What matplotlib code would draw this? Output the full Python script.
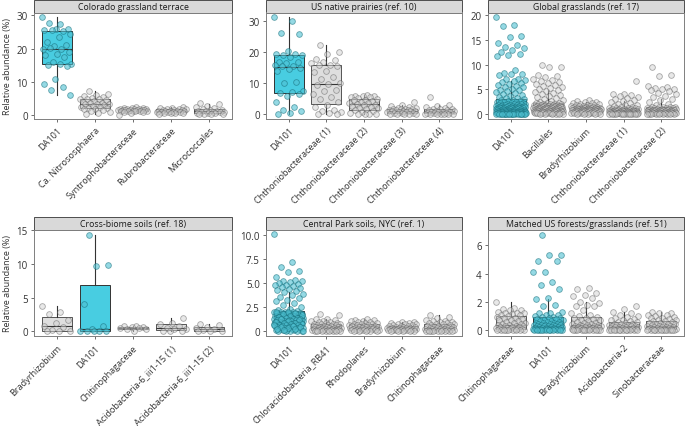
import numpy as np
import matplotlib
matplotlib.use("Agg")
import matplotlib.pyplot as plt
from matplotlib.patches import Rectangle

plt.rcParams['font.family'] = ['Open Sans', 'DejaVu Sans']

# ---------------------------------------------------------
# Data (relative abundance, %)
# ---------------------------------------------------------
titles = ["Colorado grassland terrace", "US native prairies (ref. 10)",
          "Global grasslands (ref. 17)", "Cross-biome soils (ref. 18)",
          "Central Park soils, NYC (ref. 1)", "Matched US forests/grasslands (ref. 51)"]

cats_colorado = ["DA101", "Ca. Nitrososphaera", "Syntrophobacteraceae",
                 "Rubrobacteraceae", "Micrococcales"]
cats_prairie = ["DA101", "Chthoniobacteraceae (1)", "Chthoniobacteraceae (2)",
                "Chthoniobacteraceae (3)", "Chthoniobacteraceae (4)"]
cats_global = ["DA101", "Bacillales", "Bradyrhizobium",
               "Chthoniobacteraceae (1)", "Chthoniobacteraceae (2)"]
cats_biome = ["Bradyrhizobium", "DA101", "Chitinophagaceae",
              "Acidobacteria-6_iii1-15 (1)", "Acidobacteria-6_iii1-15 (2)"]
cats_park = ["DA101", "Chloracidobacteria_RB41", "Rhodoplanes",
             "Bradyrhizobium", "Chitinophagaceae"]
cats_matched = ["Chitinophagaceae", "DA101", "Bradyrhizobium",
                "Acidobacteria-2", "Sinobacteraceae"]

# Colorado grassland terrace
colorado_da101 = [29.5, 27.5, 27.6, 26.0, 25.8, 25.5, 25.4, 25.6, 24.5, 23.5, 22.0, 21.2,
                  20.9, 20.0, 19.8, 20.2, 19.0, 18.4, 18.0, 17.5, 16.0, 15.5, 15.4, 15.0,
                  14.8, 11.0, 9.5, 8.5, 7.5, 6.0]
colorado_nitroso = [7.3, 6.5, 6.0, 5.8, 5.5, 5.2, 5.0, 4.9, 4.8, 4.5, 4.2, 4.0, 3.8, 3.6, 3.5,
                    3.4, 3.3, 3.0, 2.8, 2.6, 2.5, 2.3, 2.2, 2.0, 1.8, 1.5, 1.2, 1.0, 0.8, 0.5]
colorado_syntro = [2.5, 2.3, 2.2, 2.1, 2.0, 1.9, 1.9, 1.8, 1.8, 1.7, 1.7, 1.6, 1.6, 1.5, 1.5,
                   1.5, 1.4, 1.4, 1.3, 1.3, 1.2, 1.2, 1.1, 1.0, 0.8, 0.2]
colorado_rubro = [2.6, 2.3, 2.1, 2.0, 1.9, 1.8, 1.7, 1.6, 1.5, 1.4, 1.3, 1.3, 1.2, 1.2, 1.1,
                  1.0, 1.0, 0.9, 0.9, 0.8, 0.8, 0.7, 0.6, 0.5]
colorado_micro = [3.8, 3.3, 2.9, 2.5, 2.1, 1.9, 1.6, 1.5, 1.4, 1.3, 1.2, 1.1, 1.0, 1.0, 0.9,
                  0.8, 0.7, 0.6, 0.5, 0.5, 0.4, 0.3]

# US native prairies
prairie_da101 = [31.3, 30.0, 26.1, 26.0, 20.5, 19.5, 19.4, 19.0, 19.1, 18.5, 17.0, 16.9,
                 16.5, 16.0, 15.5, 15.6, 15.0, 14.5, 14.0, 10.5, 10.0, 7.5, 7.2, 7.0,
                 6.5, 5.8, 4.0, 2.5, 1.5, 1.2, 0.5, 0.0]
prairie_chth1 = [22.2, 20.0, 19.5, 18.0, 17.5, 17.0, 16.5, 16.0, 15.9, 15.5, 14.0, 13.5,
                 12.0, 11.5, 10.0, 9.8, 9.5, 8.0, 7.5, 6.5, 5.5, 5.0, 4.0, 3.0, 2.5, 1.5,
                 1.0, 0.8, 0.5, 0.3, 0.0]
prairie_chth2 = [6.4, 6.0, 5.9, 5.8, 5.6, 5.5, 5.2, 5.0, 4.8, 4.6, 4.2, 4.0, 3.8, 3.7, 3.5,
                 3.2, 3.0, 2.8, 2.5, 2.2, 2.0, 1.8, 1.5, 1.2, 0.8, 0.5, 0.2, 0.1, 0.0, 0.0]
prairie_chth3 = [4.0, 3.1, 2.6, 2.4, 2.2, 2.0, 1.9, 1.8, 1.7, 1.6, 1.5, 1.4, 1.3, 1.2, 1.2,
                 1.1, 1.0, 0.9, 0.8, 0.7, 0.6, 0.5, 0.4, 0.3, 0.2, 0.1, 0.0, 0.0]
prairie_chth4 = [5.5, 3.0, 2.6, 2.3, 2.1, 1.9, 1.8, 1.6, 1.5, 1.3, 1.1, 1.0, 0.9, 0.8, 0.8,
                 0.7, 0.6, 0.5, 0.4, 0.3, 0.3, 0.2, 0.1, 0.0, 0.0, 0.0]

# Global grasslands
global_da101 = [19.7, 18.1, 17.9, 15.9, 15.7, 14.5, 14.1, 13.6, 13.3, 13.0, 12.5, 12.2,
                11.9, 11.8, 9.0, 8.3, 8.2, 8.1, 7.9, 7.2, 7.1, 6.9, 6.8, 6.5, 6.2, 6.0,
                5.8, 5.7, 5.5, 5.4,
                5.1, 4.9, 4.8, 4.6, 4.4, 4.2, 4.0, 3.8, 3.7, 3.5, 3.3, 3.2, 3.0, 2.9, 2.8,
                2.7, 2.6, 2.5, 2.4, 2.35,
                2.3, 2.25, 2.2, 2.1, 2.12, 2.0, 2.03, 1.9, 1.94, 1.88, 1.8, 1.83, 1.77, 1.7,
                1.72, 1.66, 1.6, 1.63, 1.57, 1.5, 1.52, 1.48, 1.46, 1.4, 1.43, 1.38, 1.36,
                1.3, 1.33, 1.28, 1.26, 1.3, 1.2, 1.24, 1.22, 1.18, 1.2, 1.15, 1.12, 1.1,
                1.1, 1.05, 1.0, 1.02, 0.98, 0.95, 0.9, 0.92, 0.88, 0.85, 0.8, 0.83, 0.79,
                0.75, 0.76, 0.7, 0.72, 0.69, 0.65, 0.66, 0.6, 0.62, 0.58, 0.55, 0.56, 0.54,
                0.5, 0.52, 0.49, 0.51, 0.45, 0.47, 0.44, 0.46, 0.4, 0.42, 0.41, 0.4, 0.43,
                0.39,
                0.38, 0.36, 0.35, 0.34, 0.32, 0.3, 0.31, 0.28, 0.26, 0.25, 0.24, 0.22, 0.2,
                0.21, 0.19, 0.18, 0.16, 0.15, 0.14, 0.13, 0.12, 0.11, 0.1, 0.1, 0.09, 0.08,
                0.07, 0.06, 0.05, 0.05, 0.04, 0.03, 0.03, 0.02, 0.02, 0.01, 0.01, 0.0, 0.0,
                0.0]
global_bacil = [10.0, 9.6, 9.5, 8.0, 7.8, 7.5, 7.2, 7.0, 6.8, 6.6, 6.3, 6.0, 5.8, 5.6, 5.4,
                5.2, 5.0, 4.8, 4.6, 4.4, 4.2, 4.0, 3.8, 3.6, 3.4, 3.2, 3.0, 2.8, 2.6, 2.4,
                2.3, 2.26, 2.2, 2.14, 2.1, 2.06, 2.0, 1.94, 1.9, 1.87, 1.82, 1.79, 1.74,
                1.7, 1.65, 1.62, 1.59, 1.55, 1.51, 1.49, 1.47, 1.43, 1.41, 1.38, 1.37, 1.35,
                1.34, 1.32, 1.31, 1.3,
                1.28, 1.25, 1.23, 1.2, 1.17, 1.15, 1.12, 1.08, 1.06, 1.03, 1.01, 0.99, 0.96,
                0.93, 0.9, 0.88, 0.86, 0.83, 0.8, 0.79, 0.76, 0.74, 0.71, 0.7, 0.68, 0.67,
                0.64, 0.63, 0.61, 0.6,
                0.58, 0.57, 0.54, 0.52, 0.5, 0.49, 0.46, 0.44, 0.42, 0.41, 0.38, 0.36, 0.35,
                0.32, 0.3, 0.29, 0.26, 0.24, 0.22, 0.21, 0.18, 0.16, 0.14, 0.13, 0.1, 0.08,
                0.06, 0.04, 0.02, 0.0]
global_brady = [2.8, 2.6, 2.5, 2.4, 2.3, 2.2, 2.1, 2.0, 1.9, 1.8, 1.8, 1.7, 1.7, 1.6, 1.6,
                1.5, 1.5, 1.4, 1.4, 1.3,
                1.3, 1.28, 1.25, 1.22, 1.2, 1.18, 1.15, 1.12, 1.1, 1.08, 1.05, 1.02, 1.0,
                0.98, 0.96, 0.95, 0.93, 0.92, 0.91, 0.9,
                0.88, 0.86, 0.84, 0.82, 0.8, 0.78, 0.76, 0.74, 0.72, 0.7, 0.68, 0.66, 0.64,
                0.62, 0.6, 0.58, 0.56, 0.54, 0.52, 0.5,
                0.48, 0.45, 0.42, 0.4, 0.38, 0.35, 0.32, 0.3, 0.28, 0.25, 0.22, 0.2, 0.18,
                0.15, 0.12, 0.1, 0.08, 0.05, 0.03, 0.0]
global_chth1 = [6.8, 4.1, 4.0, 3.8, 3.6, 3.5, 3.3, 3.1, 2.9, 2.7, 2.5, 2.3, 2.1, 1.9, 1.8,
                1.6, 1.5, 1.4, 1.3, 1.2,
                1.2, 1.15, 1.1, 1.05, 1.0, 0.98, 0.95, 0.92, 0.9, 0.86, 0.83, 0.8, 0.77,
                0.74, 0.71, 0.68, 0.66, 0.64, 0.62, 0.6,
                0.58, 0.56, 0.54, 0.52, 0.5, 0.48, 0.46, 0.44, 0.42, 0.4, 0.38, 0.36, 0.34,
                0.32, 0.3, 0.28, 0.26, 0.24, 0.22, 0.2,
                0.19, 0.18, 0.17, 0.16, 0.15, 0.14, 0.13, 0.12, 0.11, 0.1, 0.09, 0.08, 0.07,
                0.06, 0.05, 0.04, 0.03, 0.02, 0.01, 0.0]
global_chth2 = [9.5, 7.9, 7.8, 5.6, 5.5, 5.3, 5.1, 5.0, 4.8, 4.6, 4.3, 4.0, 3.7, 3.4, 3.1,
                2.8, 2.4, 2.1, 1.8, 1.5,
                1.5, 1.45, 1.4, 1.35, 1.3, 1.25, 1.2, 1.15, 1.1, 1.05, 1.0, 0.98, 0.95,
                0.92, 0.9, 0.88, 0.86, 0.84, 0.82, 0.8,
                0.78, 0.75, 0.72, 0.7, 0.67, 0.64, 0.61, 0.58, 0.55, 0.52, 0.5, 0.47, 0.44,
                0.42, 0.4, 0.38, 0.36, 0.34, 0.32, 0.3,
                0.28, 0.26, 0.24, 0.22, 0.2, 0.19, 0.18, 0.16, 0.15, 0.14, 0.12, 0.1, 0.09,
                0.08, 0.06, 0.05, 0.04, 0.02, 0.01, 0.0]

# Cross-biome soils
biome_brady = [3.7, 2.8, 2.5, 1.6, 1.3, 0.8, 0.7, 0.2, 0.0, 0.0, 0.0]
biome_da101 = [14.3, 9.9, 9.7, 4.1, 0.8, 0.4, 0.1, 0.0, 0.0, 0.0, 0.0]
biome_chitino = [0.8, 0.8, 0.7, 0.6, 0.5, 0.5, 0.4, 0.3, 0.1]
biome_acido1 = [1.9, 1.3, 1.1, 0.8, 0.5, 0.4, 0.3, 0.1, 0.0, 0.0]
biome_acido2 = [1.1, 1.0, 0.6, 0.5, 0.4, 0.2, 0.1, 0.0, 0.0]

# Central Park soils
park_da101 = [10.1, 7.2, 6.7, 6.3, 6.2, 5.7, 5.3, 5.2, 5.2, 5.1, 5.0, 4.9, 4.8, 4.8, 4.7,
              4.6, 4.5, 4.4, 4.3, 4.2,
              4.1, 3.9, 3.8, 3.6, 3.5, 3.3, 3.1, 2.9, 2.7, 2.5, 2.35, 2.2, 2.1,
              2.05, 2.02, 1.98, 1.95, 1.91, 1.9, 1.86, 1.83, 1.8, 1.76, 1.74, 1.7, 1.67,
              1.65, 1.62, 1.58, 1.56, 1.53, 1.5, 1.49, 1.46, 1.44, 1.42, 1.4, 1.38, 1.36,
              2.04, 1.97, 1.88, 1.79, 1.69, 1.55, 1.43,
              1.35, 1.33, 1.3, 1.27, 1.25, 1.22, 1.2, 1.16, 1.13, 1.1, 1.08, 1.04, 1.0,
              0.98, 0.95, 0.92, 0.9, 0.86, 0.83, 0.8, 0.78, 0.75, 0.72, 0.7, 0.69,
              1.31, 1.18, 1.06, 0.97, 0.88, 0.81, 0.76, 0.71,
              0.66, 0.62, 0.6, 0.57, 0.54, 0.5, 0.47, 0.44, 0.4, 0.37, 0.33, 0.3, 0.27,
              0.24, 0.2, 0.17, 0.14, 0.11, 0.08, 0.05, 0.03, 0.01, 0.0, 0.0,
              0.64, 0.58, 0.49, 0.42, 0.35, 0.26, 0.19, 0.09, 0.02]
park_rb41 = [1.8, 1.7, 1.3, 1.25, 1.2, 1.1, 1.05, 1.0, 0.95, 0.9, 0.85, 0.8, 0.75, 0.72,
             0.7, 0.66, 0.62, 0.6, 0.57, 0.54, 0.5, 0.47, 0.44, 0.42, 0.4, 0.38, 0.36,
             0.35, 0.33, 0.3, 0.28, 0.26, 0.24, 0.22, 0.2, 0.18, 0.16, 0.14, 0.13, 0.12,
             0.11, 0.1, 0.09, 0.08, 0.07, 0.06, 0.05, 0.04, 0.03, 0.02, 0.01, 0.0]
park_rhodo = [1.3, 1.2, 1.15, 1.1, 1.05, 1.0, 0.95, 0.9, 0.85, 0.8, 0.75, 0.7, 0.65, 0.62,
              0.6, 0.56, 0.52, 0.5, 0.47, 0.44, 0.42, 0.4, 0.37, 0.35, 0.33, 0.3, 0.28,
              0.26, 0.24, 0.22, 0.2, 0.18, 0.16, 0.14, 0.13, 0.12, 0.11, 0.1, 0.08,
              0.06, 0.05, 0.03, 0.02, 0.0]
park_brady = [1.0, 0.95, 0.9, 0.85, 0.8, 0.75, 0.7, 0.65, 0.6, 0.56, 0.52, 0.5, 0.47,
              0.44, 0.41, 0.38, 0.35, 0.33, 0.31, 0.3, 0.28, 0.26, 0.25, 0.23, 0.21, 0.2,
              0.18, 0.16, 0.15, 0.13, 0.12, 0.1, 0.09, 0.08, 0.06, 0.05, 0.03, 0.02, 0.0]
park_chitino = [1.7, 1.5, 1.4, 1.2, 1.1, 1.05, 1.0, 0.95, 0.9, 0.85, 0.8, 0.75, 0.7, 0.65,
                0.6, 0.56, 0.52, 0.48, 0.45, 0.42, 0.38, 0.35, 0.32, 0.3, 0.27, 0.25,
                0.23, 0.2, 0.18, 0.16, 0.14, 0.12, 0.1, 0.09, 0.07, 0.06, 0.05, 0.04,
                0.03, 0.02, 0.01, 0.0, 0.0]

# Matched US forests/grasslands
matched_chitino = [2.0, 1.6, 1.5, 1.45, 1.4, 1.3, 1.25, 1.2, 1.2, 1.15, 1.1, 1.05, 1.0,
                   0.95, 0.9, 0.85, 0.8, 0.75, 0.7, 0.65, 0.6, 0.55, 0.5, 0.45, 0.42,
                   0.38, 0.35, 0.32, 0.3, 0.27, 0.25, 0.22, 0.2, 0.18, 0.15, 0.12, 0.1,
                   0.09, 0.08, 0.07, 0.06, 0.05, 0.04, 0.03, 0.02, 0.02, 0.01, 0.01, 0.0, 0.0]
matched_da101 = [6.7, 5.3, 5.3, 4.9, 4.9, 4.1, 4.1, 3.4, 3.2, 2.9, 2.3, 2.2, 1.8, 1.7,
                 1.3, 1.25, 1.2, 1.1, 1.05, 1.0,
                 0.95, 0.92, 0.88, 0.85, 0.8, 0.77, 0.74, 0.7, 0.67, 0.64, 0.6, 0.57,
                 0.55, 0.52, 0.5, 0.48, 0.46, 0.44, 0.42, 0.4,
                 0.39, 0.37, 0.35, 0.34, 0.32, 0.3, 0.29, 0.27, 0.25, 0.24, 0.22, 0.2,
                 0.19, 0.17, 0.16, 0.15, 0.13, 0.12, 0.11, 0.1,
                 0.1, 0.09, 0.09, 0.08, 0.08, 0.07, 0.06, 0.06, 0.05, 0.05, 0.04, 0.04,
                 0.03, 0.03, 0.02, 0.02, 0.01, 0.01, 0.0, 0.0]
matched_brady = [3.0, 2.9, 2.6, 2.5, 2.4, 2.3, 2.0, 1.9, 1.8, 1.7, 1.7, 1.4, 1.2, 1.1, 1.0,
                 0.95, 0.9, 0.85, 0.8, 0.75, 0.7, 0.65, 0.6, 0.55, 0.5, 0.46, 0.43, 0.4,
                 0.37, 0.35,
                 0.33, 0.31, 0.29, 0.27, 0.25, 0.23, 0.21, 0.2, 0.18, 0.16, 0.15, 0.13,
                 0.12, 0.11, 0.1,
                 0.09, 0.08, 0.07, 0.06, 0.05, 0.05, 0.04, 0.03, 0.03, 0.02, 0.02, 0.01,
                 0.01, 0.0, 0.0]
matched_acido = [1.7, 1.5, 1.3, 1.2, 1.1, 1.0, 0.95, 0.9, 0.8, 0.75, 0.7, 0.65, 0.6, 0.56,
                 0.52, 0.48, 0.45, 0.42, 0.4, 0.37, 0.35, 0.33, 0.31, 0.3, 0.28, 0.26,
                 0.24, 0.22, 0.2, 0.18, 0.16, 0.14, 0.12, 0.1, 0.09, 0.08, 0.07, 0.06,
                 0.05, 0.05, 0.04, 0.03, 0.03, 0.02, 0.02, 0.01, 0.01, 0.0, 0.0, 0.0]
matched_sino = [1.3, 1.25, 1.2, 1.1, 1.05, 1.0, 0.95, 0.9, 0.85, 0.8, 0.75, 0.7, 0.68,
                0.65, 0.6, 0.55, 0.5, 0.47, 0.44, 0.41, 0.38, 0.35, 0.32, 0.3, 0.28,
                0.26, 0.24, 0.22, 0.2, 0.18, 0.16, 0.14, 0.12, 0.1, 0.09, 0.08, 0.07,
                0.06, 0.05, 0.05, 0.04, 0.03, 0.03, 0.02, 0.02, 0.01, 0.01, 0.0, 0.0, 0.0]

panel_cats = [cats_colorado, cats_prairie, cats_global, cats_biome, cats_park, cats_matched]
panel_data = [
    [colorado_da101, colorado_nitroso, colorado_syntro, colorado_rubro, colorado_micro],
    [prairie_da101, prairie_chth1, prairie_chth2, prairie_chth3, prairie_chth4],
    [global_da101, global_bacil, global_brady, global_chth1, global_chth2],
    [biome_brady, biome_da101, biome_chitino, biome_acido1, biome_acido2],
    [park_da101, park_rb41, park_rhodo, park_brady, park_chitino],
    [matched_chitino, matched_da101, matched_brady, matched_acido, matched_sino],
]
panel_ylim = [(-1.0, 30.8), (-1.3, 32.8), (-0.9, 20.6), (-0.7, 15.1), (-0.5, 10.6), (-0.4, 7.1)]
panel_yticks = [[0, 10, 20, 30], [0, 10, 20, 30], [0, 5, 10, 15, 20], [0, 5, 10, 15],
                [0, 2.5, 5.0, 7.5, 10.0], [0, 2, 4, 6]]
panel_yticklabels = [None, None, None, None, ["0", "2.5", "5.0", "7.5", "10.0"], None]

# ---------------------------------------------------------
# Layout (pixel boxes of each panel)
# ---------------------------------------------------------
W, H = 685, 427
cols = [(34, 232), (266, 462), (488, 684)]
rows = [(13.5, 119.5), (230.5, 337)]
strip_px = 12.5

teal_box = '#48CDE1'
teal_pt = '#4FC1D2'
teal_edge = '#17707D'
gray_box = '#DEDEDE'
gray_pt = '#D2D2D2'
gray_edge = '#5A5A5A'
txt = '#333333'

fig = plt.figure(figsize=(W / 100, H / 100), dpi=100)

for k in range(6):
    l, r = cols[k % 3]
    t, b = rows[k // 3]
    ax = fig.add_axes([l / W, 1 - b / H, (r - l) / W, (b - t) / H])
    cats = panel_cats[k]
    data = panel_data[k]
    pos = np.arange(len(cats))

    bp = ax.boxplot(data, positions=pos, widths=0.8, patch_artist=True,
                    showfliers=False, showcaps=False, whis=1.5,
                    medianprops=dict(color='#333333', lw=0.8),
                    whiskerprops=dict(color='#333333', lw=0.8),
                    boxprops=dict(lw=0.7))
    for i, box in enumerate(bp['boxes']):
        is_da = cats[i] == "DA101"
        box.set_facecolor(teal_box if is_da else gray_box)
        box.set_edgecolor('#333333' if is_da else '#555555')
        box.set_zorder(2)
    for ln in bp['medians'] + bp['whiskers']:
        ln.set_zorder(2.1)

    # deterministic jitter for point positions
    for i, vals in enumerate(data):
        vals = np.asarray(vals)
        n = len(vals)
        off = ((np.arange(n) * 0.6180339887 + 0.3 * i) % 1.0 - 0.5) * 0.8
        is_da = cats[i] == "DA101"
        ax.scatter(pos[i] + off, vals, s=17, linewidths=0.6,
                   facecolor=teal_pt if is_da else gray_pt,
                   edgecolor=teal_edge if is_da else gray_edge,
                   alpha=0.6 if is_da else 0.5, zorder=3)

    ax.set_xlim(-0.6, len(cats) - 0.4)
    ax.set_ylim(*panel_ylim[k])
    ax.set_yticks(panel_yticks[k])
    if panel_yticklabels[k] is not None:
        ax.set_yticklabels(panel_yticklabels[k])
    ax.set_xticks(pos)
    ax.set_xticklabels(cats, rotation=45, ha='right', rotation_mode='anchor',
                       fontsize=6.6, color=txt)
    ax.tick_params(axis='y', labelsize=7, labelcolor=txt, length=2.5, width=0.6,
                   color='#555555', pad=2)
    ax.tick_params(axis='x', length=2.5, width=0.6, color='#555555', pad=2.5)
    for sp in ax.spines.values():
        sp.set_color('#7F7F7F')
        sp.set_linewidth(0.7)

    # facet strip
    sh = strip_px / (b - t)
    ax.add_patch(Rectangle((0, 1), 1, sh, transform=ax.transAxes, clip_on=False,
                           facecolor='#D9D9D9', edgecolor='#333333', lw=0.6))
    ax.text(0.5, 1 + sh / 2, titles[k], transform=ax.transAxes, ha='center',
            va='center', fontsize=6.3, color='#1A1A1A')

    if k % 3 == 0:
        ax.set_ylabel("Relative abundance (%)", fontsize=6.5, color=txt, labelpad=3)

fig.savefig("out.png", dpi=100)
